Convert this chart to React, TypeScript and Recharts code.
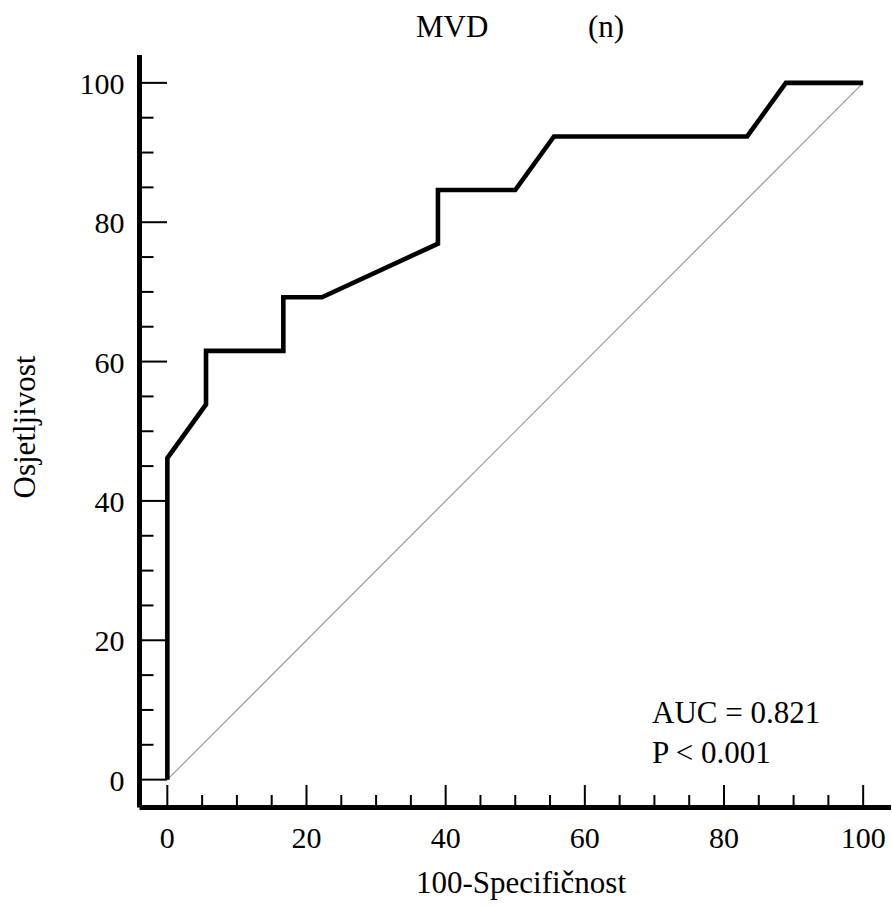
import React from 'react';
import { LineChart, Line, XAxis, YAxis, Customized } from 'recharts';

// ROC curve points (100-specificity, sensitivity)
const falsePositive = [0, 0, 5.56, 5.56, 16.67, 16.67, 22.22, 38.89, 38.89, 50, 55.56, 83.33, 88.89, 100];
const sensitivity = [0, 46.15, 53.85, 61.54, 61.54, 69.23, 69.23, 76.92, 84.62, 84.62, 92.31, 92.31, 100, 100];
const diagonalX = [0, 100];
const diagonalY = [0, 100];
const axisTicks = [0, 5, 10, 15, 20, 25, 30, 35, 40, 45, 50, 55, 60, 65, 70, 75, 80, 85, 90, 95, 100];
const majorStep = 20;

const rocData = falsePositive.map((x, i) => ({ x, y: sensitivity[i] }));
const diagData = diagonalX.map((x, i) => ({ x, y: diagonalY[i] }));

const textStyle = { fontFamily: "'Liberation Serif', 'Times New Roman', serif", fill: '#000' };

const XTick = ({ x, y, payload }: any) => {
  const major = payload.value % majorStep === 0;
  return (
    <g>
      <line x1={x} y1={y} x2={x} y2={y - (major ? 22.5 : 12.5)} stroke="#000" strokeWidth={2} />
      {major && (
        <text x={x} y={y + 40.5} textAnchor="middle" fontSize={30} style={textStyle}>
          {payload.value}
        </text>
      )}
    </g>
  );
};

const YTick = ({ x, y, payload }: any) => {
  const major = payload.value % majorStep === 0;
  return (
    <g>
      <line x1={x} y1={y} x2={x + (major ? 27.5 : 14)} y2={y} stroke="#000" strokeWidth={2} />
      {major && (
        <text x={x - 15} y={y + 11} textAnchor="end" fontSize={30} style={textStyle}>
          {payload.value}
        </text>
      )}
    </g>
  );
};

const Texts = () => (
  <g>
    <text x={416} y={37} fontSize={31} style={textStyle}>MVD</text>
    <text x={588} y={37} fontSize={31} style={textStyle}>(n)</text>
    <text x={652} y={723} fontSize={31} style={textStyle}>AUC = 0.821</text>
    <text x={652} y={763} fontSize={31} style={textStyle}>P &lt; 0.001</text>
    <text x={521} y={893} fontSize={31} textAnchor="middle" style={textStyle}>100-Specifičnost</text>
    <text x={35} y={427} fontSize={31} textAnchor="middle" transform="rotate(-90, 35, 427)" style={textStyle}>
      Osjetljivost
    </text>
  </g>
);

export default function App() {
  return (
    <div>
      <style>{`body{margin:0;background:#fff}`}</style>
      <LineChart width={892} height={907} margin={{ top: 55, right: 1, left: 0, bottom: 0 }}>
        <XAxis
          type="number"
          dataKey="x"
          domain={[-4, 104]}
          ticks={axisTicks}
          interval={0}
          height={99.5}
          tickSize={0}
          tickMargin={0}
          tickLine={false}
          tick={<XTick />}
          axisLine={{ stroke: '#000', strokeWidth: 5 }}
        />
        <YAxis
          type="number"
          dataKey="y"
          domain={[-4, 104]}
          ticks={axisTicks}
          interval={0}
          width={139.5}
          tickSize={0}
          tickMargin={0}
          tickLine={false}
          tick={<YTick />}
          axisLine={{ stroke: '#000', strokeWidth: 5 }}
        />
        <Line
          data={diagData}
          dataKey="y"
          type="linear"
          stroke="#9a9a9a"
          strokeWidth={1.2}
          dot={false}
          isAnimationActive={false}
        />
        <Line
          data={rocData}
          dataKey="y"
          type="linear"
          stroke="#000"
          strokeWidth={4.6}
          strokeLinejoin="miter"
          dot={false}
          isAnimationActive={false}
        />
        <Customized component={<Texts />} />
      </LineChart>
    </div>
  );
}
